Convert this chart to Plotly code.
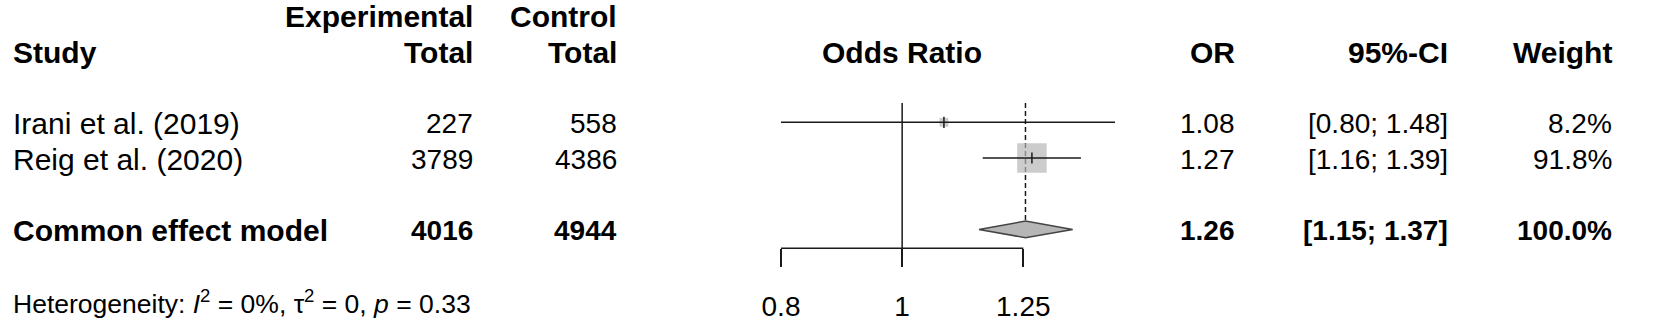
import math
import plotly.graph_objects as go

# ---------------- data ----------------
studies = ["Irani et al. (2019)", "Reig et al. (2020)"]
exp_total = [227, 3789]
ctrl_total = [558, 4386]
or_est = [1.08, 1.27]
ci_lo = [0.80, 1.16]
ci_hi = [1.48, 1.39]
weights = [8.2, 91.8]
or_text = ["1.08", "1.27"]
ci_text = ["[0.80; 1.48]", "[1.16; 1.39]"]
weight_text = ["8.2%", "91.8%"]

pooled_label = "Common effect model"
pooled_exp = 4016
pooled_ctrl = 4944
pooled_or = 1.255
pooled_lo = 1.152
pooled_hi = 1.369
pooled_or_text = "1.26"
pooled_ci_text = "[1.15; 1.37]"
pooled_weight_text = "100.0%"

tick_vals = [0.8, 1, 1.25]
tick_text = ["0.8", "1", "1.25"]
het_text = "Heterogeneity: <i>I</i><sup>2</sup> = 0%, τ<sup>2</sup> = 0, <i>p</i> = 0.33"

# ---------------- layout constants ----------------
W, H = 1653, 334
PX_LO, PX_HI = 781.0, 1023.3          # pixel positions of the axis ends
k = (PX_HI - PX_LO) / (math.log10(tick_vals[-1]) - math.log10(tick_vals[0]))
x_range = [math.log10(tick_vals[0]) - PX_LO / k,
           math.log10(tick_vals[0]) + (W - PX_LO) / k]

ROW_H, Y0 = 35.7, 86.6                 # row height and pixel of row 0
y_range = [(H - Y0) / ROW_H, -Y0 / ROW_H]
study_rows = [1, 2]
pooled_row = 4
AXIS_ROW = 4.53
REF_TOP = 0.46
DIAM_H = 0.233
TXT_DY = 0.04
HET_ROW = 6.0
SQ_SCALE = 29.5 / math.sqrt(max(weights))

FONT = "Liberation Sans, Arial, Helvetica, sans-serif"
FS_TXT = 30
FS_NUM = 28
FS_HET = 26.5
FS_TICK = 28
LINE_C = "#1a1a1a"
LW = 1.5
GREY = "#B6B6B6"

fig = go.Figure()

# reference line at 1 (no effect)
fig.add_trace(go.Scatter(x=[1, 1], y=[REF_TOP, AXIS_ROW], mode="lines",
                         line=dict(color=LINE_C, width=LW), hoverinfo="skip"))
# dashed line at pooled estimate
fig.add_trace(go.Scatter(x=[pooled_or, pooled_or], y=[REF_TOP, pooled_row - DIAM_H],
                         mode="lines", line=dict(color=LINE_C, width=LW, dash="5px,3px"),
                         hoverinfo="skip"))
# weight squares
fig.add_trace(go.Scatter(x=or_est, y=study_rows, mode="markers",
                         marker=dict(symbol="square", color=GREY,
                                     size=[SQ_SCALE * math.sqrt(w) for w in weights],
                                     line=dict(width=0)),
                         hoverinfo="skip"))
# CI lines
xs, ys = [], []
for lo, hi, r in zip(ci_lo, ci_hi, study_rows):
    xs += [lo, hi, None]
    ys += [r, r, None]
fig.add_trace(go.Scatter(x=xs, y=ys, mode="lines",
                         line=dict(color=LINE_C, width=LW), hoverinfo="skip"))
# point estimate ticks
fig.add_trace(go.Scatter(x=or_est, y=study_rows, mode="markers",
                         marker=dict(symbol="line-ns", size=8,
                                     line=dict(color=LINE_C, width=LW)),
                         hoverinfo="skip"))
# pooled diamond
fig.add_trace(go.Scatter(x=[pooled_lo, pooled_or, pooled_hi, pooled_or, pooled_lo],
                         y=[pooled_row, pooled_row - DIAM_H, pooled_row,
                            pooled_row + DIAM_H, pooled_row],
                         mode="lines", fill="toself", fillcolor=GREY,
                         line=dict(color="#444444", width=LW), hoverinfo="skip"))
# axis line
fig.add_trace(go.Scatter(x=[tick_vals[0], tick_vals[-1]], y=[AXIS_ROW, AXIS_ROW],
                         mode="lines", line=dict(color=LINE_C, width=LW),
                         hoverinfo="skip"))

# ---------------- text table ----------------
ann = []


def txt(text, xpx, row, anchor="right", bold=False, xref="paper", size=FS_TXT):
    x = xpx / W if xref == "paper" else xpx
    ann.append(dict(text=f"<b>{text}</b>" if bold else text,
                    x=x, xref=xref, y=row + TXT_DY, yref="y",
                    xanchor=anchor, yanchor="middle", showarrow=False,
                    borderpad=0, borderwidth=0,
                    font=dict(family=FONT, size=size, color="black")))


COL_STUDY = 12.7
COL_EXP = 473.3
COL_CTRL = 616.7
COL_OR = 1235.0
COL_CI = 1448.3
COL_W = 1611.7

# headers
txt("Experimental", COL_EXP, -2, bold=True)
txt("Control", COL_CTRL, -2, bold=True)
txt("Study", COL_STUDY, -1, anchor="left", bold=True)
txt("Total", COL_EXP, -1, bold=True)
txt("Total", COL_CTRL, -1, bold=True)
# centred over the axis (log axis: annotation x given in log10 units)
txt("Odds Ratio", math.log10(1), -1, anchor="center", bold=True, xref="x")
txt("OR", COL_OR, -1, bold=True)
txt("95%-CI", COL_CI, -1, bold=True)
txt("Weight", COL_W, -1, bold=True)

for i, r in enumerate(study_rows):
    txt(studies[i], COL_STUDY, r, anchor="left")
    txt(str(exp_total[i]), COL_EXP, r, size=FS_NUM)
    txt(str(ctrl_total[i]), COL_CTRL, r, size=FS_NUM)
    txt(or_text[i], COL_OR, r, size=FS_NUM)
    txt(ci_text[i], COL_CI, r, size=FS_NUM)
    txt(weight_text[i], COL_W, r, size=FS_NUM)

txt(pooled_label, COL_STUDY, pooled_row, anchor="left", bold=True)
txt(str(pooled_exp), COL_EXP, pooled_row, bold=True, size=FS_NUM)
txt(str(pooled_ctrl), COL_CTRL, pooled_row, bold=True, size=FS_NUM)
txt(pooled_or_text, COL_OR, pooled_row, bold=True, size=FS_NUM)
txt(pooled_ci_text, COL_CI, pooled_row, bold=True, size=FS_NUM)
txt(pooled_weight_text, COL_W, pooled_row, bold=True, size=FS_NUM)

txt(het_text, COL_STUDY, HET_ROW, anchor="left", size=FS_HET)

axis_px = Y0 + AXIS_ROW * ROW_H

fig.update_layout(
    width=W, height=H,
    margin=dict(l=0, r=0, t=0, b=0),
    paper_bgcolor="white", plot_bgcolor="white",
    showlegend=False,
    annotations=ann,
    xaxis=dict(type="log", range=x_range, domain=[0, 1], anchor="free",
               position=1 - axis_px / H,
               showgrid=False, zeroline=False, showline=False,
               ticks="outside", ticklen=17.4, tickwidth=LW, tickcolor=LINE_C,
               tickmode="array", tickvals=tick_vals, ticktext=tick_text,
               tickfont=dict(family=FONT, size=FS_TICK, color="black"),
               ticklabelstandoff=16, fixedrange=True),
    yaxis=dict(range=y_range, domain=[0, 1], visible=False, fixedrange=True),
)

fig.write_html("out.html", config={"displayModeBar": False})
